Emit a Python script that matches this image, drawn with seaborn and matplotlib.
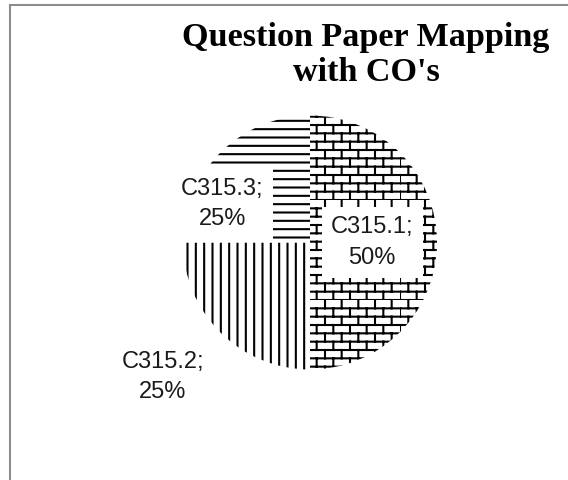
import warnings
import numpy as np
import matplotlib
matplotlib.use("Agg")
import matplotlib.pyplot as plt
import matplotlib.hatch as mhatch
from matplotlib.patches import Rectangle
import seaborn as sns

warnings.filterwarnings("ignore")

# ---- data ----
categories = ["C315.1", "C315.2", "C315.3"]
shares = [50, 25, 25]
title_text = "Question Paper Mapping\nwith CO's"

# ---- custom brick hatch ('B') ----
class BrickHatch(mhatch.HatchPatternBase):
    def __init__(self, hatch, density):
        self.on = hatch.count("B") > 0
        self.rows = 12
        self.cols = 6
        self.num_vertices = (self.rows * 2 + self.rows * self.cols * 2) if self.on else 0

    def set_vertices_and_codes(self, vertices, codes):
        k = 0
        for i in range(self.rows):
            y = i / self.rows
            vertices[k] = (0.0, y); codes[k] = mhatch.Path.MOVETO; k += 1
            vertices[k] = (1.0, y); codes[k] = mhatch.Path.LINETO; k += 1
        for i in range(self.rows):
            y0 = i / self.rows
            y1 = (i + 1) / self.rows
            off = 0.5 if i % 2 else 0.0
            for j in range(self.cols):
                x = (j + off) / self.cols
                vertices[k] = (x, y0); codes[k] = mhatch.Path.MOVETO; k += 1
                vertices[k] = (x, y1); codes[k] = mhatch.Path.LINETO; k += 1

if BrickHatch not in mhatch._hatch_types:
    mhatch._hatch_types.append(BrickHatch)

sns.set_style("white")
plt.rcParams["hatch.linewidth"] = 1.5

hatches = ["B", "||", "--"]
label_pos = [(0.49, 0.0), (-1.16, -1.06), (-0.69, 0.30)]

fig = plt.figure(figsize=(5.68, 4.8), dpi=100)
fig.patch.set_facecolor("white")

# outer chart frame (left / top visible)
fig.add_artist(Rectangle((10 / 568, -0.05), 1.2, 1 - 5 / 480 + 0.05,
                         transform=fig.transFigure, fill=False,
                         edgecolor="#8c8c8c", linewidth=1.5))

cx, cy, r = 310, 242.5, 127
ax = fig.add_axes([(cx - r) / 568, (480 - cy - r) / 480, 2 * r / 568, 2 * r / 480])
wedges, _ = ax.pie(shares, startangle=90, counterclock=False, radius=1,
                   colors=["white"] * 3,
                   wedgeprops=dict(edgecolor="black", linewidth=0))
for w, h in zip(wedges, hatches):
    w.set_hatch(h)
ax.set_xlim(-1, 1)
ax.set_ylim(-1, 1)
ax.set_aspect("auto")
ax.axis("off")

for cat, val, (lx, ly) in zip(categories, shares, label_pos):
    ax.text(lx, ly, f"{cat};\n{val}%", ha="center", va="center",
            fontsize=17, family="Liberation Sans", color="#1a1a1a",
            linespacing=1.48,
            bbox=dict(boxstyle="square,pad=0.40", facecolor="white", edgecolor="none"),
            clip_on=False, zorder=5)

fig.text(366 / 568, 1 - 22 / 480, title_text, ha="center", va="top",
         fontsize=24.6, family="Liberation Serif", fontweight="bold",
         linespacing=1.17, color="black")

fig.savefig("out.png", dpi=100, facecolor="white")
